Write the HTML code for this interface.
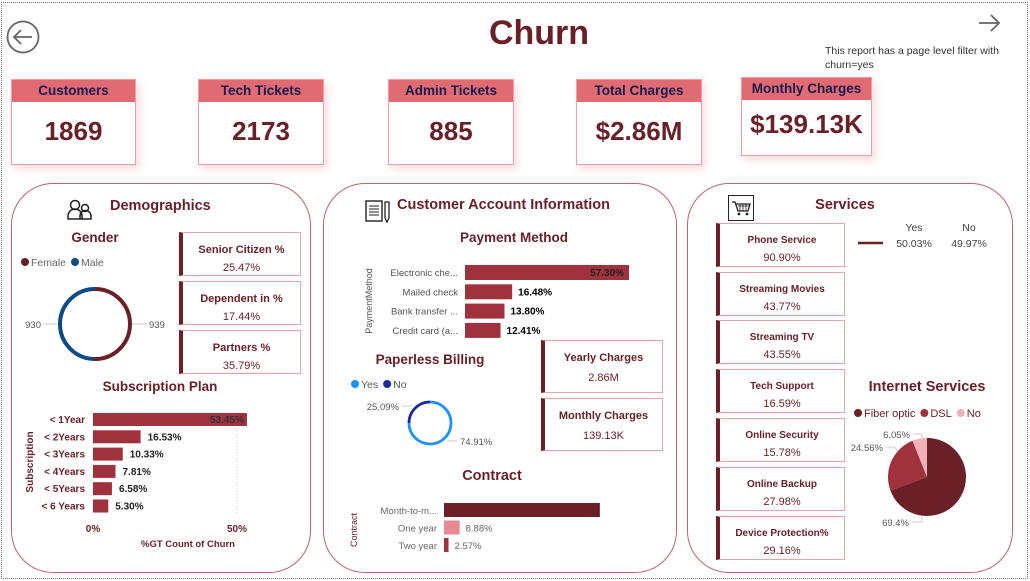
<!DOCTYPE html>
<html><head><meta charset="utf-8"><style>
*{margin:0;padding:0;box-sizing:border-box}
body{width:1030px;height:581px;background:#fff;font-family:"Liberation Sans",sans-serif;position:relative;overflow:hidden;color:#6b2027}
.abs{position:absolute}
.frame{left:1px;top:2px;width:1027px;height:577px;border:1.5px dotted #777}
.kpi{position:absolute;border:1.5px solid #ef9ca3;background:#fff;box-shadow:3px 4px 8px rgba(224,107,115,.25)}
.kpi .h{background:#e06b73;height:22px;text-align:center;font-weight:bold;font-size:13.5px;line-height:21px;color:#1a1a4e}
.kpi .v{text-align:center;font-weight:bold;font-size:26px;color:#6b2027}
.panel{position:absolute;border:1.3px solid #c0636c;border-radius:42px;background:#fff}
.card{position:absolute;border:1.3px solid #eba3a9;border-left:4px solid #6b2027;text-align:center;background:#fff}
.card .t{font-weight:bold;font-size:11px;color:#6b2027}
.card .n{font-size:11px;color:#6b2027}
.ttl{position:absolute;font-weight:bold;color:#6b2027;white-space:nowrap}
</style></head><body>
<div class="abs frame"></div>
<svg class="abs" style="left:6px;top:20px" width="34" height="34"><circle cx="17" cy="17" r="15.5" fill="none" stroke="#666" stroke-width="1.8"/><path d="M26 17H9M15 10l-7 7 7 7" fill="none" stroke="#666" stroke-width="1.8"/></svg>
<div class="ttl" style="left:0;width:1078px;text-align:center;top:14px;font-size:34px">Churn</div>
<svg class="abs" style="left:977px;top:11px" width="26" height="24"><path d="M2 12H22M14 4l8 8-8 8" fill="none" stroke="#666" stroke-width="1.8"/></svg>
<div class="abs" style="left:825px;top:44px;font-size:10.5px;line-height:14px;color:#333;width:190px">This report has a page level filter with churn=yes</div>

<div class="kpi" style="left:11px;top:79px;width:125px;height:86px"><div class="h">Customers</div><div class="v" style="margin-top:14px">1869</div></div>
<div class="kpi" style="left:198px;top:79px;width:126px;height:86px"><div class="h">Tech Tickets</div><div class="v" style="margin-top:14px">2173</div></div>
<div class="kpi" style="left:388px;top:79px;width:126px;height:86px"><div class="h">Admin Tickets</div><div class="v" style="margin-top:14px">885</div></div>
<div class="kpi" style="left:576px;top:79px;width:126px;height:86px"><div class="h">Total Charges</div><div class="v" style="margin-top:14px">$2.86M</div></div>
<div class="kpi" style="left:741px;top:77px;width:131px;height:79px"><div class="h">Monthly Charges</div><div class="v" style="margin-top:9px">$139.13K</div></div>

<div class="panel" style="left:11px;top:183px;width:300px;height:390px"></div>
<div class="panel" style="left:323px;top:183px;width:354px;height:390px"></div>
<div class="panel" style="left:687px;top:183px;width:326px;height:390px"></div>

<svg class="abs" style="left:67px;top:199px" width="26" height="22"><circle cx="8" cy="6" r="4.5" fill="none" stroke="#222" stroke-width="1.5"/><circle cx="18" cy="9" r="3.5" fill="none" stroke="#222" stroke-width="1.5"/><path d="M1 20v-3a6 6 0 0 1 14 0v3zM13 20v-3a5 5 0 0 1 11 0v3z" fill="none" stroke="#222" stroke-width="1.5"/></svg>
<div class="ttl" style="left:110px;top:198px;font-size:14.5px">Demographics</div>
<div class="ttl" style="left:45px;width:100px;text-align:center;top:230px;font-size:13.5px">Gender</div>
<div class="card" style="left:179px;top:232px;width:122px;height:44px"><div class="t" style="margin-top:11px">Senior Citizen %</div><div class="n" style="margin-top:6px">25.47%</div></div>
<div class="card" style="left:179px;top:281px;width:122px;height:44px"><div class="t" style="margin-top:11px">Dependent in %</div><div class="n" style="margin-top:6px">17.44%</div></div>
<div class="card" style="left:179px;top:330px;width:122px;height:44px"><div class="t" style="margin-top:11px">Partners %</div><div class="n" style="margin-top:6px">35.79%</div></div>
<div class="ttl" style="left:60px;width:200px;text-align:center;top:379px;font-size:13.5px">Subscription Plan</div>

<svg class="abs" style="left:364px;top:199px" width="28" height="25"><rect x="2" y="2" width="16" height="20" fill="none" stroke="#222" stroke-width="1.4"/><path d="M5 7h10M5 10h10M5 13h10M5 16h10" stroke="#222"/><path d="M21 3h4v16l-2 4-2-4z" fill="none" stroke="#222" stroke-width="1.3"/></svg>
<div class="ttl" style="left:397px;top:197px;font-size:14.5px">Customer Account Information</div>
<div class="ttl" style="left:414px;width:200px;text-align:center;top:230px;font-size:13.5px">Payment Method</div>
<div class="ttl" style="left:360px;width:140px;text-align:center;top:352px;font-size:13.5px">Paperless Billing</div>
<div class="card" style="left:541px;top:340px;width:122px;height:53px"><div class="t" style="margin-top:11px">Yearly Charges</div><div class="n" style="margin-top:8px">2.86M</div></div>
<div class="card" style="left:541px;top:398px;width:122px;height:53px"><div class="t" style="margin-top:11px">Monthly Charges</div><div class="n" style="margin-top:8px">139.13K</div></div>
<div class="ttl" style="left:442px;width:100px;text-align:center;top:468px;font-size:14.5px">Contract</div>

<svg class="abs" style="left:728px;top:195px" width="26" height="26"><rect x="0.5" y="0.5" width="25" height="25" fill="#fff" stroke="#222"/><path d="M4 7h3l3 9h10l2-7H8" fill="none" stroke="#222" stroke-width="1.3"/><path d="M10 11h11M12 9v7M15 9v7M18 9v7" stroke="#222" stroke-width=".8"/><circle cx="11" cy="19" r="1.4" fill="#222"/><circle cx="19" cy="19" r="1.4" fill="#222"/></svg>
<div class="ttl" style="left:795px;width:100px;text-align:center;top:197px;font-size:14.5px">Services</div>
<div class="card" style="left:716px;top:223px;width:129px;height:44px"><div class="t" style="margin-top:11px;font-size:10px">Phone Service</div><div class="n" style="margin-top:6px">90.90%</div></div>
<div class="card" style="left:716px;top:272px;width:129px;height:44px"><div class="t" style="margin-top:11px;font-size:10px">Streaming Movies</div><div class="n" style="margin-top:6px">43.77%</div></div>
<div class="card" style="left:716px;top:320px;width:129px;height:44px"><div class="t" style="margin-top:11px;font-size:10px">Streaming TV</div><div class="n" style="margin-top:6px">43.55%</div></div>
<div class="card" style="left:716px;top:369px;width:129px;height:44px"><div class="t" style="margin-top:11px;font-size:10px">Tech Support</div><div class="n" style="margin-top:6px">16.59%</div></div>
<div class="card" style="left:716px;top:418px;width:129px;height:44px"><div class="t" style="margin-top:11px;font-size:10px">Online Security</div><div class="n" style="margin-top:6px">15.78%</div></div>
<div class="card" style="left:716px;top:467px;width:129px;height:44px"><div class="t" style="margin-top:11px;font-size:10px">Online Backup</div><div class="n" style="margin-top:6px">27.98%</div></div>
<div class="card" style="left:716px;top:516px;width:129px;height:44px"><div class="t" style="margin-top:11px;font-size:10px">Device Protection%</div><div class="n" style="margin-top:6px">29.16%</div></div>
<svg class="abs" style="left:855px;top:218px" width="160" height="34"><line x1="3" y1="25" x2="28" y2="25" stroke="#6b2027" stroke-width="2.5"/><text x="59" y="13" font-size="10.5" fill="#444" text-anchor="middle">Yes</text><text x="59" y="29" font-size="10.5" fill="#444" text-anchor="middle">50.03%</text><text x="114" y="13" font-size="10.5" fill="#444" text-anchor="middle">No</text><text x="114" y="29" font-size="10.5" fill="#444" text-anchor="middle">49.97%</text></svg>
<div class="ttl" style="left:857px;width:140px;text-align:center;top:379px;font-size:14.5px">Internet Services</div>

<svg id="chart" class="abs" style="left:0;top:0" width="1030" height="581"></svg>
<script>
const subCats=["< 1Year","< 2Years","< 3Years","< 4Years","< 5Years","< 6 Years"];
const subVals=[53.45,16.53,10.33,7.81,6.58,5.30];
const payCats=["Electronic che...","Mailed check","Bank transfer ...","Credit card (a..."];
const payVals=[57.30,16.48,13.80,12.41];
const conCats=["Month-to-m...","One year","Two year"];
const conVals=[88.55,8.88,2.57];
const conLabels=["","8.88%","2.57%"];
const genderCats=["Female","Male"];
const genderVals=[939,930];
const paperCats=["Yes","No"];
const paperVals=[74.91,25.09];
const netCats=["Fiber optic","DSL","No"];
const netVals=[69.4,24.56,6.05];

const svg=document.getElementById('chart');
const NS="http://www.w3.org/2000/svg";
function mk(tag,attrs,parent){const e=document.createElementNS(NS,tag);for(const k in attrs)e.setAttribute(k,attrs[k]);(parent||svg).appendChild(e);return e;}
function txt(x,y,s,attrs){const t=mk('text',Object.assign({x:x,y:y,'font-size':10,fill:'#444','font-family':'Liberation Sans, sans-serif'},attrs||{}));t.textContent=s;return t;}

// Subscription bars
const sx=v=>93+v*2.88, sy=i=>413+i*17.3;
mk('line',{x1:sx(50),y1:410,x2:sx(50),y2:515,stroke:'#ccc','stroke-dasharray':'1,2'});
subCats.forEach((c,i)=>{
  const r=mk('rect',{x:sx(0),y:sy(i),width:sx(subVals[i])-sx(0),height:13,fill:'#a0323d'});
  
  
  txt(85,sy(i)+10,c,{'text-anchor':'end',fill:'#6b2027','font-weight':'bold'});
  const lab=subVals[i].toFixed(2)+'%';
  if(i==0)txt(sx(subVals[i])-3,sy(i)+10,lab,{'text-anchor':'end',fill:'#333','font-weight':'bold'});
  else txt(sx(subVals[i])+7,sy(i)+10,lab,{fill:'#222','font-weight':'bold'});
});
txt(sx(0),532,'0%',{'text-anchor':'middle',fill:'#6b2027','font-weight':'bold'});
txt(sx(50),532,'50%',{'text-anchor':'middle',fill:'#6b2027','font-weight':'bold'});
txt(188,547,'%GT Count of Churn',{'text-anchor':'middle',fill:'#6b2027','font-weight':'bold','font-size':9.5});
txt(0,0,'Subscription',{transform:'translate(33,462) rotate(-90)','text-anchor':'middle',fill:'#6b2027','font-weight':'bold'});

// Payment bars
const px=v=>465+v*2.862, py=i=>265+i*19.3;
payCats.forEach((c,i)=>{
  const r=mk('rect',{x:px(0),y:py(i),width:px(payVals[i])-px(0),height:15,fill:'#a0323d'});
  
  
  txt(458,py(i)+11,c,{'text-anchor':'end',fill:'#555','font-size':9.5});
  const lab=payVals[i].toFixed(2)+'%';
  if(i==0)txt(px(payVals[i])-5,py(i)+11,lab,{'text-anchor':'end',fill:'#222','font-weight':'bold'});
  else txt(px(payVals[i])+6,py(i)+11,lab,{fill:'#000','font-weight':'bold'});
});
txt(0,0,'PaymentMethod',{transform:'translate(372,301) rotate(-90)','text-anchor':'middle',fill:'#555','font-size':9});

// Contract bars
const cx=v=>444+v*1.76, cy=i=>503+i*17.5;
const conColors=['#6b2027','#e8898f','#a0323d'];
conCats.forEach((c,i)=>{
  const r=mk('rect',{x:cx(0),y:cy(i),width:cx(conVals[i])-cx(0),height:14,fill:conColors[i]});
  
  
  txt(437,cy(i)+11,c,{'text-anchor':'end',fill:'#666','font-size':9.5});
  if(conLabels[i])txt(cx(conVals[i])+6,cy(i)+11,conLabels[i],{fill:'#666','font-size':9.5});
});
txt(0,0,'Contract',{transform:'translate(357,530) rotate(-90)','text-anchor':'middle',fill:'#6b2027','font-size':9});

function arcPath(cx0,cy0,r,a0,a1){const p=a=>[cx0+r*Math.sin(a),cy0-r*Math.cos(a)];const [x0,y0]=p(a0),[x1,y1]=p(a1);const lg=(a1-a0)>Math.PI?1:0;return `M${x0} ${y0}A${r} ${r} 0 ${lg} 1 ${x1} ${y1}`;}
function donut(cx0,cy0,r,w,vals,colors,name){const tot=vals.reduce((a,b)=>a+b,0);let a=0;vals.forEach((v,i)=>{const a1=a+v/tot*2*Math.PI;const p=mk('path',{d:arcPath(cx0,cy0,r,a,a1-0.0001),fill:'none',stroke:colors[i],'stroke-width':w});a=a1;});}
function legend(x,y,cats,colors,fill,fs){let lx=x;cats.forEach((c,i)=>{mk('circle',{cx:lx+4,cy:y,r:4,fill:colors[i]});const t=txt(lx+10,y+4,c,{fill:fill,'font-size':fs});lx+=10+t.getComputedTextLength()+5;});}

// Gender donut
donut(95,324,35,4,genderVals,['#6b2027','#0d4a86'],'gender-slice');
legend(21,262,genderCats,['#6b2027','#0d4a86'],'#666',10.5);
mk('line',{x1:43,y1:324,x2:58,y2:324,stroke:'#ccc'});mk('line',{x1:132,y1:324,x2:147,y2:324,stroke:'#ccc'});
txt(41,328,String(genderVals[1]),{'text-anchor':'end',fill:'#555','font-size':9.5});
txt(149,328,String(genderVals[0]),{fill:'#555','font-size':9.5});

// Paperless donut
donut(430,423,21,2.8,paperVals,['#1e90ff','#1a2a9c'],'paperless-slice');
legend(351,384,paperCats,['#1e90ff','#1a2a9c'],'#555',10.5);
mk('line',{x1:402,y1:406,x2:412,y2:406,stroke:'#ccc'});mk('line',{x1:447,y1:441,x2:457,y2:441,stroke:'#ccc'});
txt(399,410,paperVals[1].toFixed(2)+'%',{'text-anchor':'end',fill:'#555','font-size':9.5});
txt(460,445,paperVals[0].toFixed(2)+'%',{fill:'#555','font-size':9.5});

// Internet pie
const netColors=['#6b2027','#a0323d','#f0b2b6'];
(function(){const tot=netVals.reduce((a,b)=>a+b,0);let a=0;const c0=[927,477],r=39;netVals.forEach((v,i)=>{const a1=a+v/tot*2*Math.PI;const p=q=>[c0[0]+r*Math.sin(q),c0[1]-r*Math.cos(q)];const [x0,y0]=p(a),[x1,y1]=p(a1);const lg=(a1-a)>Math.PI?1:0;const s=mk('path',{d:`M${c0[0]} ${c0[1]}L${x0} ${y0}A${r} ${r} 0 ${lg} 1 ${x1} ${y1}Z`,fill:netColors[i]});a=a1;});})();
legend(854,413,netCats,netColors,'#6b2027',11);
txt(910,438,netVals[2].toFixed(2)+'%',{'text-anchor':'end',fill:'#555','font-size':9.5});
mk('path',{d:'M913 434h9v6',fill:'none',stroke:'#ccc'});
txt(883,451,netVals[1].toFixed(2)+'%',{'text-anchor':'end',fill:'#555','font-size':9.5});
mk('path',{d:'M886 447h8l4 4',fill:'none',stroke:'#ccc'});
txt(909,526,netVals[0].toFixed(1)+'%',{'text-anchor':'end',fill:'#555','font-size':9.5});
mk('path',{d:'M912 522h10v-6',fill:'none',stroke:'#ccc'});
</script>
</body></html>
